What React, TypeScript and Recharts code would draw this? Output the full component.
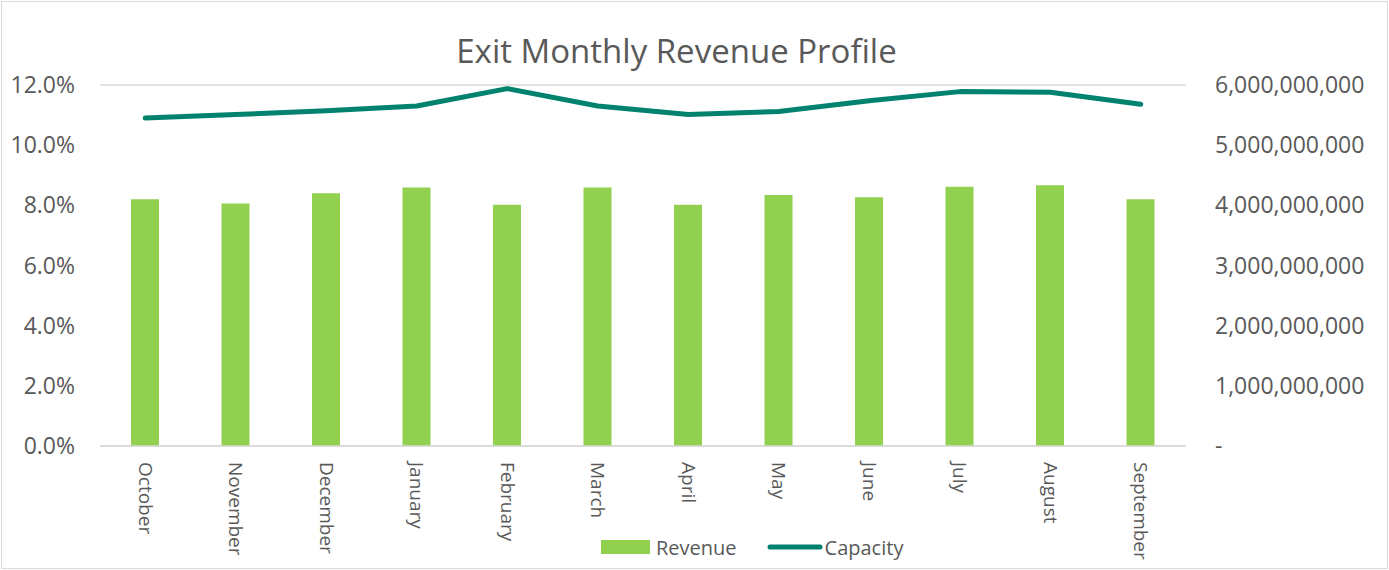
import {
  ComposedChart,
  Bar,
  Line,
  XAxis,
  YAxis,
  CartesianGrid,
  Legend,
} from "recharts";

const months = [
  "October",
  "November",
  "December",
  "January",
  "February",
  "March",
  "April",
  "May",
  "June",
  "July",
  "August",
  "September",
];

// revenue share (left axis) and capacity (right axis)
const revenue = [0.082, 0.0806, 0.084, 0.0859, 0.0802, 0.0859, 0.0802, 0.0834, 0.0827, 0.0862, 0.0867, 0.082];
const capacity = [5.45e9, 5.51e9, 5.57e9, 5.65e9, 5.94e9, 5.65e9, 5.51e9, 5.56e9, 5.74e9, 5.89e9, 5.88e9, 5.68e9];

const pctTicks = [0, 0.02, 0.04, 0.06, 0.08, 0.1, 0.12];
const capTicks = [0, 1e9, 2e9, 3e9, 4e9, 5e9, 6e9];

const data = months.map((m, i) => ({
  month: m,
  revenue: revenue[i],
  capacity: capacity[i],
}));

const FONT = '"Open Sans", sans-serif';
const TEXT = "#595959";
const BAR = "#92d050";
const LINE = "#00826f";

function MonthTick({ x, y, payload }: any) {
  const ty = y + 8;
  return (
    <text
      x={x}
      y={ty}
      dy="0.35em"
      transform={`rotate(90, ${x}, ${ty})`}
      textAnchor="start"
      fill={TEXT}
      fontSize={19}
      fontFamily={FONT}
    >
      {payload.value}
    </text>
  );
}

function LegendBox() {
  return (
    <div
      style={{
        display: "flex",
        alignItems: "center",
        fontFamily: FONT,
        fontSize: 20,
        color: TEXT,
        height: 30,
        whiteSpace: "nowrap",
      }}
    >
      <span style={{ width: 49, height: 14, background: BAR, marginRight: 6 }} />
      <span>Revenue</span>
      <svg width={56} height={10} style={{ marginLeft: 30, marginRight: 2 }}>
        <line x1={3} y1={5} x2={53} y2={5} stroke={LINE} strokeWidth={5} strokeLinecap="round" />
      </svg>
      <span>Capacity</span>
    </div>
  );
}

export default function App() {
  return (
    <div
      style={{
        position: "absolute",
        left: 0,
        top: 0,
        width: 1389,
        height: 570,
        background: "#fff",
      }}
    >
      <div
        style={{
          position: "absolute",
          left: 1,
          top: 1,
          width: 1385,
          height: 566,
          border: "1px solid #d9d9d9",
          pointerEvents: "none",
        }}
      />
      <div
        style={{
          position: "absolute",
          top: 28,
          left: 0,
          width: 1353,
          textAlign: "center",
          fontFamily: FONT,
          fontSize: 33,
          color: TEXT,
        }}
      >
        Exit Monthly Revenue Profile
      </div>
      <ComposedChart
        width={1389}
        height={570}
        data={data}
        margin={{ top: 85, right: 0, bottom: 0, left: 0 }}
        barCategoryGap={0}
      >
        <CartesianGrid vertical={false} stroke="#d9d9d9" strokeWidth={1.5} />
        <XAxis
          dataKey="month"
          height={124}
          axisLine={{ stroke: "#d9d9d9", strokeWidth: 1.5 }}
          tickLine={false}
          interval={0}
          tick={<MonthTick />}
        />
        <YAxis
          yAxisId="pct"
          orientation="left"
          width={100}
          domain={[0, 0.12]}
          ticks={pctTicks}
          axisLine={false}
          tickLine={false}
          tickSize={0}
          tickMargin={25}
          tickFormatter={(v: number) => `${(v * 100).toFixed(1)}%`}
          tick={{ fill: TEXT, fontSize: 23, fontFamily: FONT }}
        />
        <YAxis
          yAxisId="cap"
          orientation="right"
          width={203}
          domain={[0, 6e9]}
          ticks={capTicks}
          axisLine={false}
          tickLine={false}
          tickSize={0}
          tickMargin={29}
          tickFormatter={(v: number) => (v === 0 ? "-" : v.toLocaleString("en-US"))}
          tick={{ fill: TEXT, fontSize: 23, fontFamily: FONT, textAnchor: "start" }}
        />
        <Bar
          yAxisId="pct"
          dataKey="revenue"
          name="Revenue"
          fill={BAR}
          barSize={28}
          isAnimationActive={false}
        />
        <Line
          yAxisId="cap"
          dataKey="capacity"
          name="Capacity"
          type="linear"
          stroke={LINE}
          strokeWidth={5}
          strokeLinecap="round"
          strokeLinejoin="round"
          dot={false}
          activeDot={false}
          isAnimationActive={false}
        />
        <Legend
          layout="horizontal"
          verticalAlign="middle"
          align="center"
          content={<LegendBox />}
          wrapperStyle={{ top: 532, left: 601, width: "auto" }}
        />
      </ComposedChart>
    </div>
  );
}
